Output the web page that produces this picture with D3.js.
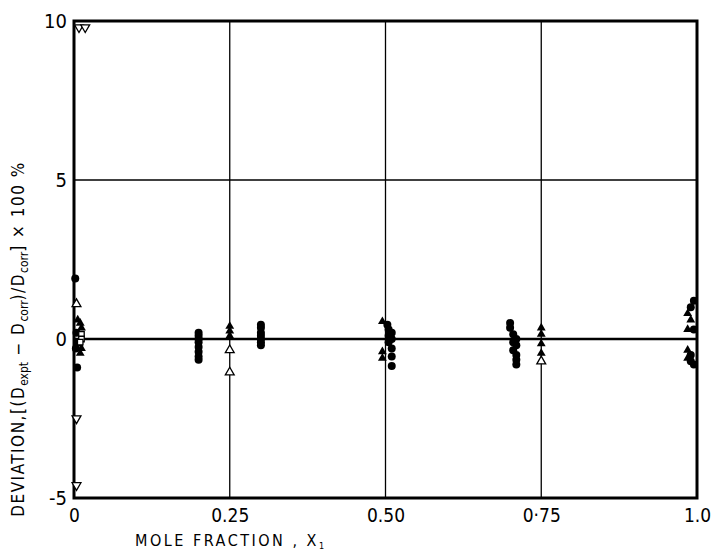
<!DOCTYPE html>
<html>
<head>
<meta charset="utf-8">
<script src="https://cdn.jsdelivr.net/npm/d3@7"></script>
<style>
body { margin:0; background:#fff; }
text { font-family: "Liberation Sans Narrow", "DejaVu Sans Condensed", "Liberation Sans", sans-serif; fill:#000; }
</style>
</head>
<body>
<div id="chart"></div>
<script>
'use strict';

var width = 713;
var height = 553;
var margin = {left:74, right:16, top:21, bottom:55};

// tick values and labels
var xTicks = [0, 0.25, 0.5, 0.75, 1.0];
var xTickLabels = ["0", "0.25", "0.50", "0·75", "1.0"];
var yTicks = [-5, 0, 5, 10];
var yTickLabels = ["-5", "0", "5", "10"];

// points [x, deviation %] per marker type
var filledCircles = [
	[0.002,1.9],[0.004,0.2],[0.006,-0.1],[0.003,-0.3],[0.005,-0.9],
	[0.2,0.2],[0.2,0.1],[0.2,0.0],[0.2,-0.1],[0.2,-0.25],[0.2,-0.4],[0.2,-0.55],[0.2,-0.65],
	[0.3,0.45],[0.3,0.35],[0.3,0.2],[0.3,0.1],[0.3,0.0],[0.3,-0.1],[0.3,-0.2],
	[0.503,0.45],[0.505,0.3],[0.51,0.2],[0.505,0.1],[0.51,0.0],[0.505,-0.1],[0.51,-0.3],[0.51,-0.55],[0.51,-0.85],
	[0.7,0.5],[0.7,0.35],[0.705,0.15],[0.71,0.0],[0.705,-0.1],[0.71,-0.2],[0.705,-0.35],[0.71,-0.5],[0.71,-0.65],[0.71,-0.8],
	[0.995,1.2],[0.99,1.0],[0.995,0.3],[0.99,-0.5],[0.995,-0.8],[0.99,-0.7]
];
var filledTriangles = [
	[0.006,0.6],[0.01,0.5],[0.012,0.35],[0.008,-0.15],[0.012,-0.3],[0.01,-0.45],
	[0.25,0.4],[0.25,0.25],[0.25,0.1],
	[0.495,0.55],[0.495,-0.4],[0.495,-0.6],
	[0.75,0.35],[0.75,0.15],[0.75,-0.15],[0.75,-0.45],
	[0.985,0.8],[0.99,0.6],[0.985,0.3],[0.985,-0.35],[0.985,-0.6]
];
var openTriangles = [
	[0.004,1.1],[0.25,-0.35],[0.25,-1.05],[0.75,-0.7]
];
var openInvTriangles = [
	[0.008,9.8],[0.018,9.8],[0.004,-2.5],[0.004,-4.6]
];
var openSquares = [
	[0.012,0.15],[0.012,0.0],[0.01,-0.1]
];

var svg = d3.select("#chart")
	.append("svg")
	.attr("width", width)
	.attr("height", height);

var x = d3.scaleLinear().domain([0, 1]).range([margin.left, width - margin.right]);
var y = d3.scaleLinear().domain([-5, 10]).range([height - margin.bottom, margin.top]);

// grid lines
svg.selectAll("line.vgrid")
	.data(xTicks.slice(1, 4))
	.enter()
	.append("line")
	.attr("class", "vgrid")
	.attr("x1", function(d){ return x(d); })
	.attr("x2", function(d){ return x(d); })
	.attr("y1", y(10))
	.attr("y2", y(-5))
	.attr("stroke", "#000")
	.attr("stroke-width", 1.3);

svg.selectAll("line.hgrid")
	.data([0, 5])
	.enter()
	.append("line")
	.attr("class", "hgrid")
	.attr("x1", x(0))
	.attr("x2", x(1))
	.attr("y1", function(d){ return y(d); })
	.attr("y2", function(d){ return y(d); })
	.attr("stroke", "#000")
	.attr("stroke-width", function(d){ return d == 0 ? 2.4 : 1.5; });

// frame
svg.append("rect")
	.attr("x", x(0))
	.attr("y", y(10))
	.attr("width", x(1) - x(0))
	.attr("height", y(-5) - y(10))
	.attr("fill", "none")
	.attr("stroke", "#000")
	.attr("stroke-width", 3);

// axes (labels only, ticks are the grid)
var xAxis = d3.axisBottom(x)
	.tickValues(xTicks)
	.tickSize(0)
	.tickPadding(11)
	.tickFormat(function(d, i){ return xTickLabels[i]; });
var gx = svg.append("g")
	.attr("transform", "translate(0," + y(-5) + ")")
	.call(xAxis);
gx.select(".domain").remove();
gx.selectAll("text").style("font-size", "19px").style("font-family", null);

var yAxis = d3.axisLeft(y)
	.tickValues(yTicks)
	.tickSize(0)
	.tickPadding(7)
	.tickFormat(function(d, i){ return yTickLabels[i]; });
var gy = svg.append("g")
	.attr("transform", "translate(" + x(0) + ",0)")
	.call(yAxis);
gy.select(".domain").remove();
gy.selectAll("text").style("font-size", "20px").style("font-family", null);

// markers
var triUp = d3.symbol().type(d3.symbolTriangle).size(34);
var square = d3.symbol().type(d3.symbolSquare).size(30);

svg.selectAll("circle.pt")
	.data(filledCircles)
	.enter()
	.append("circle")
	.attr("class", "pt")
	.attr("cx", function(d){ return x(d[0]); })
	.attr("cy", function(d){ return y(d[1]); })
	.attr("r", 4)
	.attr("fill", "#000");

svg.selectAll("path.ftri")
	.data(filledTriangles)
	.enter()
	.append("path")
	.attr("class", "ftri")
	.attr("d", triUp)
	.attr("transform", function(d){ return "translate(" + x(d[0]) + "," + y(d[1]) + ")"; })
	.attr("fill", "#000");

svg.selectAll("path.otri")
	.data(openTriangles)
	.enter()
	.append("path")
	.attr("class", "otri")
	.attr("d", triUp)
	.attr("transform", function(d){ return "translate(" + x(d[0]) + "," + y(d[1]) + ")"; })
	.attr("fill", "#fff")
	.attr("stroke", "#000")
	.attr("stroke-width", 1.3);

svg.selectAll("path.itri")
	.data(openInvTriangles)
	.enter()
	.append("path")
	.attr("class", "itri")
	.attr("d", triUp)
	.attr("transform", function(d){ return "translate(" + x(d[0]) + "," + y(d[1]) + ") rotate(180)"; })
	.attr("fill", "#fff")
	.attr("stroke", "#000")
	.attr("stroke-width", 1.3);

svg.selectAll("path.sq")
	.data(openSquares)
	.enter()
	.append("path")
	.attr("class", "sq")
	.attr("d", square)
	.attr("transform", function(d){ return "translate(" + x(d[0]) + "," + y(d[1]) + ")"; })
	.attr("fill", "#fff")
	.attr("stroke", "#000")
	.attr("stroke-width", 1.3);

// axis titles
var xt = svg.append("text")
	.attr("x", 135)
	.attr("y", 546)
	.style("font-size", "16px")
	.style("letter-spacing", "2.5px")
	.text("MOLE FRACTION , X");
xt.append("tspan")
	.attr("dy", 3)
	.style("font-size", "9px")
	.text("1");

var yt = svg.append("text")
	.attr("transform", "translate(24," + y(0) + ") rotate(-90)")
	.attr("text-anchor", "middle")
	.style("font-size", "17px")
	.style("letter-spacing", "1.5px");
yt.append("tspan").text("DEVIATION,[(D");
yt.append("tspan").attr("dy", 4).style("font-size", "12px").style("letter-spacing", "0px").text("expt");
yt.append("tspan").attr("dy", -4).text(" − D");
yt.append("tspan").attr("dy", 4).style("font-size", "12px").style("letter-spacing", "0px").text("corr");
yt.append("tspan").attr("dy", -4).text(")/D");
yt.append("tspan").attr("dy", 4).style("font-size", "12px").style("letter-spacing", "0px").text("corr");
yt.append("tspan").attr("dy", -4).text("] × 100 %");
</script>
</body>
</html>
